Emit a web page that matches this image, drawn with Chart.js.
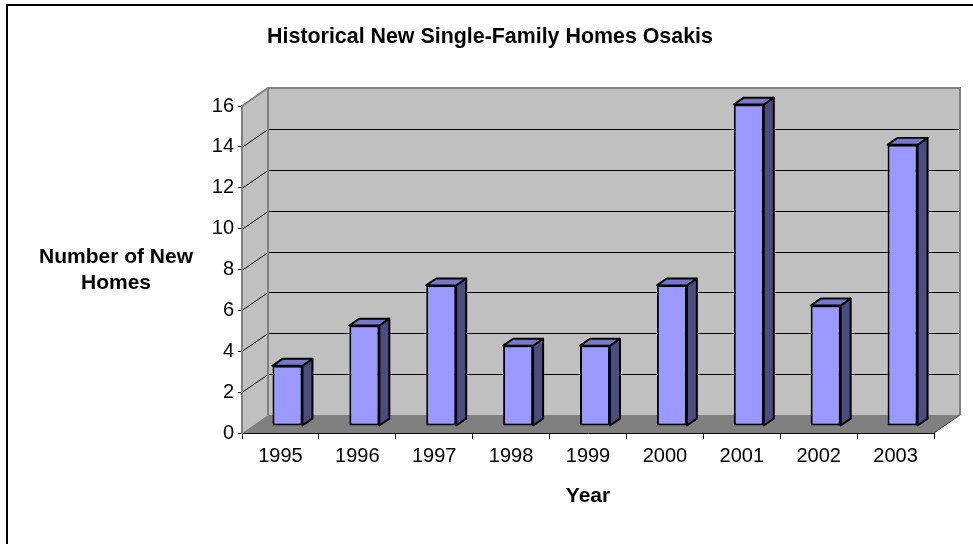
<!DOCTYPE html>
<html>
<head>
<meta charset="utf-8">
<title>Historical New Single-Family Homes Osakis</title>
<script src="https://cdn.jsdelivr.net/npm/chart.js@4.4.1/dist/chart.umd.min.js"></script>
<style>
  body { margin: 0; background: #fff; }
  canvas { display: block; }
</style>
</head>
<body>
<canvas id="homesChart" width="973" height="544"></canvas>
<script>
// data
const years = ["1995", "1996", "1997", "1998", "1999", "2000", "2001", "2002", "2003"];
const newHomes = [3, 5, 7, 4, 4, 7, 16, 6, 14];
const yTicks = [0, 2, 4, 6, 8, 10, 12, 14, 16];

const chartTitle = "Historical New Single-Family Homes Osakis";
const yTitleLines = ["Number of New", "Homes"];
const xTitle = "Year";

const FONT = '"Liberation Sans", Arial, sans-serif';

// fake 3d look: depth of the walls and where the bars stand on the floor
const wallDepth = { x: 26, y: -18 };
const barShift = { x: 7, y: -7 };
const barDepth = { x: 10, y: -7 };
const barScale = 0.983; // bars sit further back so they are a bit shorter

/**
 * Draws the grey walls, floor and gridlines behind the bars.
 */
const wallsPlugin = {
    id: "walls",
    beforeDraw(chart) {
        const ctx = chart.ctx;
        const { left, right, top, bottom } = chart.chartArea;
        const yScale = chart.scales.y;
        const dx = wallDepth.x, dy = wallDepth.y;

        ctx.save();
        ctx.fillStyle = "#ffffff";
        ctx.fillRect(0, 0, chart.width, chart.height);

        // side wall + back wall
        ctx.fillStyle = "#c0c0c0";
        ctx.beginPath();
        ctx.moveTo(left, top);
        ctx.lineTo(left + dx, top + dy);
        ctx.lineTo(left + dx, bottom + dy);
        ctx.lineTo(left, bottom);
        ctx.closePath();
        ctx.fill();
        ctx.fillRect(left + dx, top + dy, right - left, bottom - top);

        // floor
        ctx.fillStyle = "#808080";
        ctx.beginPath();
        ctx.moveTo(left, bottom);
        ctx.lineTo(left + dx, bottom + dy);
        ctx.lineTo(right + dx, bottom + dy);
        ctx.lineTo(right, bottom);
        ctx.closePath();
        ctx.fill();

        // gridlines on both walls
        ctx.strokeStyle = "#000000";
        ctx.lineWidth = 1;
        yTicks.forEach((v) => {
            if (v === yTicks[0] || v === yTicks[yTicks.length - 1]) return;
            const y = Math.round(yScale.getPixelForValue(v)) + 0.5;
            ctx.beginPath();
            ctx.moveTo(left, y);
            ctx.lineTo(left + dx, y + dy);
            ctx.lineTo(right + dx, y + dy);
            ctx.stroke();
        });

        // wall edges
        ctx.strokeStyle = "#808080";
        ctx.lineWidth = 2;
        ctx.beginPath();
        ctx.moveTo(left, top);
        ctx.lineTo(left + dx, top + dy);
        ctx.lineTo(right + dx, top + dy);
        ctx.lineTo(right + dx, bottom + dy);
        ctx.moveTo(left + dx, top + dy);
        ctx.lineTo(left + dx, bottom + dy);
        ctx.stroke();

        ctx.strokeStyle = "#404040";
        ctx.lineWidth = 1;
        ctx.beginPath();
        ctx.moveTo(right, bottom);
        ctx.lineTo(right + dx, bottom + dy);
        ctx.stroke();
        ctx.restore();
    },

    // push the bars back onto the floor
    beforeDatasetsDraw(chart) {
        const ctx = chart.ctx;
        const base = chart.scales.y.getPixelForValue(0);
        ctx.save();
        ctx.translate(barShift.x, base * (1 - barScale) + barShift.y);
        ctx.scale(1, barScale);
    },

    // side and top faces of every bar
    afterDatasetsDraw(chart) {
        const ctx = chart.ctx;
        const meta = chart.getDatasetMeta(0);
        ctx.lineWidth = 2;
        ctx.lineJoin = "round";
        ctx.strokeStyle = "#000000";
        meta.data.forEach((bar) => {
            const { x, y, base, width } = bar.getProps(["x", "y", "base", "width"], true);
            const l = x - width / 2, r = x + width / 2;

            ctx.fillStyle = "#4c4c80";
            ctx.beginPath();
            ctx.moveTo(r, y);
            ctx.lineTo(r + barDepth.x, y + barDepth.y);
            ctx.lineTo(r + barDepth.x, base + barDepth.y);
            ctx.lineTo(r, base);
            ctx.closePath();
            ctx.fill();
            ctx.stroke();

            ctx.fillStyle = "#7777cc";
            ctx.beginPath();
            ctx.moveTo(l, y);
            ctx.lineTo(l + barDepth.x, y + barDepth.y);
            ctx.lineTo(r + barDepth.x, y + barDepth.y);
            ctx.lineTo(r, y);
            ctx.closePath();
            ctx.fill();
            ctx.stroke();
        });
        ctx.restore();
    },

    // titles and outer frame
    afterDraw(chart) {
        const ctx = chart.ctx;
        ctx.save();
        ctx.fillStyle = "#000000";
        ctx.textBaseline = "alphabetic";
        ctx.textAlign = "center";

        ctx.font = "bold 21.4px " + FONT;
        ctx.fillText(chartTitle, 490, 43);

        ctx.font = "bold 21px " + FONT;
        ctx.fillText(yTitleLines[0], 116, 263);
        ctx.fillText(yTitleLines[1], 116, 289);

        const { left, right } = chart.chartArea;
        ctx.fillText(xTitle, (left + right) / 2, 502);

        // only the top and left edges of the chart frame are on the page
        ctx.strokeStyle = "#000000";
        ctx.lineWidth = 2;
        ctx.beginPath();
        ctx.moveTo(7, chart.height);
        ctx.lineTo(7, 5);
        ctx.lineTo(chart.width, 5);
        ctx.stroke();
        ctx.restore();
    }
};

const ctx = document.getElementById("homesChart").getContext("2d");

new Chart(ctx, {
    type: "bar",
    data: {
        labels: years,
        datasets: [
            {
                label: "New single-family homes",
                data: newHomes,
                backgroundColor: "#9999ff",
                borderColor: "#000000",
                borderWidth: 2,
                borderSkipped: false,
                categoryPercentage: 1,
                barPercentage: 0.39,
                clip: false,
            },
        ],
    },
    options: {
        responsive: false,
        animation: false,
        devicePixelRatio: 1,
        layout: {
            padding: { left: 0, right: 39, top: 106, bottom: 0 },
        },
        plugins: {
            legend: { display: false },
            title: { display: false },
            tooltip: { enabled: false },
        },
        scales: {
            x: {
                grid: {
                    offset: true,
                    drawOnChartArea: false,
                    drawTicks: true,
                    tickLength: 6,
                    color: "#000000",
                },
                border: { display: true, color: "#000000", width: 1 },
                ticks: {
                    color: "#000000",
                    padding: 5,
                    maxRotation: 0,
                    font: { family: FONT, size: 20 },
                },
                afterFit(scale) {
                    scale.height = 111;
                },
            },
            y: {
                min: 0,
                max: 16,
                afterBuildTicks(scale) {
                    scale.ticks = yTicks.map((v) => ({ value: v }));
                },
                grid: {
                    drawOnChartArea: false,
                    drawTicks: true,
                    tickLength: 4,
                    color: "#000000",
                },
                border: { display: true, color: "#808080", width: 2 },
                ticks: {
                    color: "#000000",
                    padding: 4,
                    font: { family: FONT, size: 20 },
                },
                afterFit(scale) {
                    scale.width = 242;
                },
            },
        },
    },
    plugins: [wallsPlugin],
});
</script>
</body>
</html>
